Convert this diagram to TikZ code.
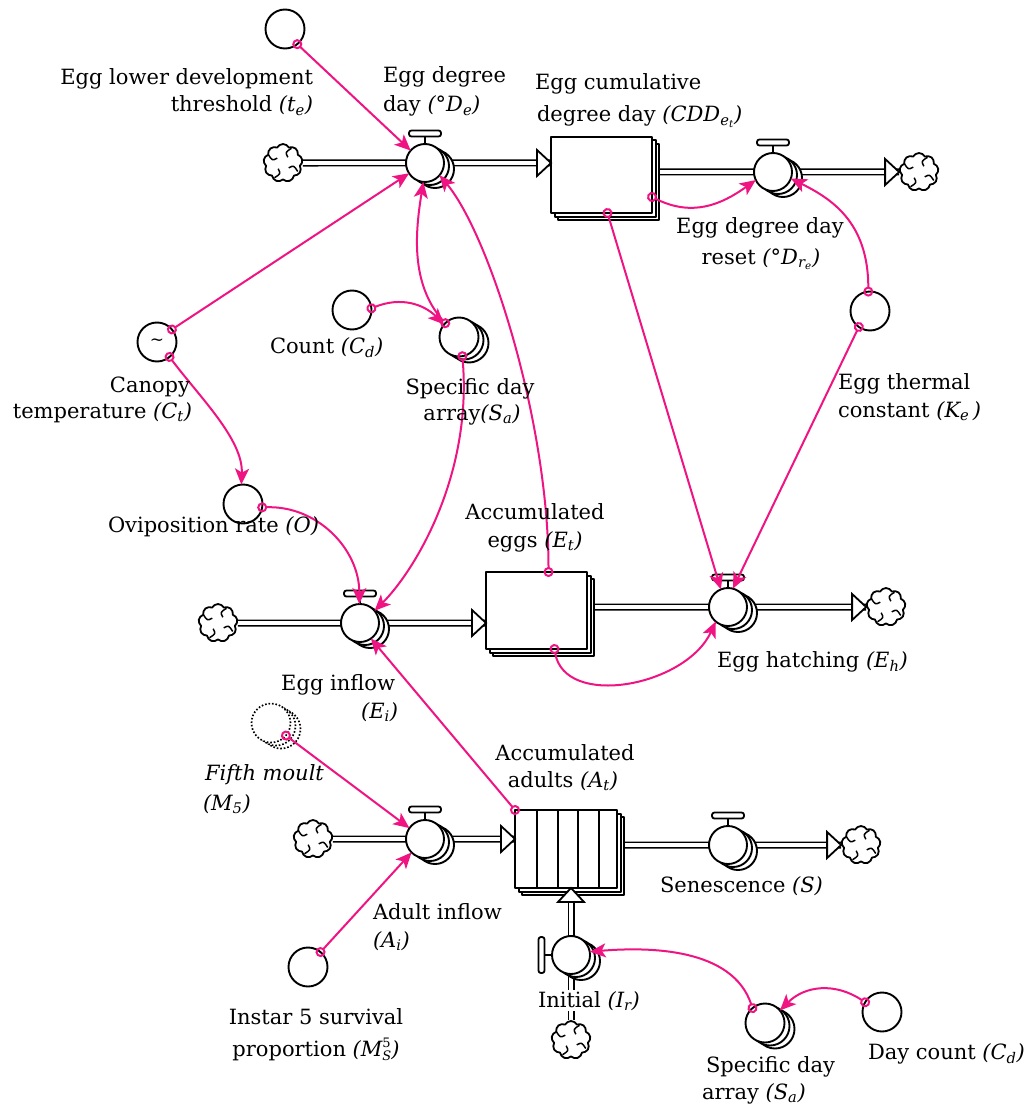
\documentclass[tikz,border=0pt]{standalone}
\usepackage{fontspec}
\setmainfont{DejaVu Serif}
\usetikzlibrary{arrows.meta,shapes.symbols,backgrounds,calc}
\definecolor{linkc}{RGB}{240,20,130}

\newcommand\sbs[1]{\textsubscript{#1}}

% converter drawn with two copies stacked behind it (arrayed variable)
\newcommand\stackedconv[4]{%
  \node[#1] at (#3+10,#4+6) {};
  \node[#1] at (#3+5,#4+3) {};
  \node[#1] (#2) at (#3,#4) {};}

% flow valve with the handle on top
\newcommand\valve[3]{%
  \draw[line width=1.8pt] (#2,#3-18) -- (#2,#3-27);
  \draw[line width=1.8pt, fill=white, rounded corners=2.4pt] (#2-16,#3-32.5) rectangle (#2+16,#3-26.5);
  \stackedconv{vconv}{#1}{#2}{#3}}

% flow valve with the handle on the left (vertical flow)
\newcommand\valvev[3]{%
  \draw[line width=1.8pt] (#2-18,#3) -- (#2-27,#3);
  \draw[line width=1.8pt, fill=white, rounded corners=2.4pt] (#2-32.5,#3-18) rectangle (#2-26.5,#3+18);
  \stackedconv{vconv}{#1}{#2}{#3}}

% stock box with two stacked copies
\newcommand\stock[5]{%
  \node[box, minimum width=#4pt, minimum height=#5pt] at (#2+7,#3+7) {};
  \node[box, minimum width=#4pt, minimum height=#5pt] at (#2+3.5,#3+3.5) {};
  \node[box, minimum width=#4pt, minimum height=#5pt] (#1) at (#2,#3) {};}

% source / sink cloud
\newcommand\srccloud[3]{%
  \node[srcloud] (#1) at (#2,#3) {};
  \foreach \a in {0,90,180,270}
    \draw[line width=1.5pt] ($(#1)+(\a+30:17)$) .. controls ($(#1)+(\a+12:11)$) .. ($(#1)+(\a+40:7.5)$);}

% small index set above a subscript, without overlap
\newcommand\supsub[2]{\rlap{\raisebox{8.5pt}{\fontsize{13}{13}\selectfont\upshape #1}}\raisebox{-4.5pt}{\fontsize{13}{13}\selectfont #2}}

\begin{document}
\begin{tikzpicture}[x=1pt,y=-1pt,
  line join=round,
  pipe/.style={draw=black, line width=1.7pt, double=white, double distance=3.6pt},
  box/.style={draw, line width=2pt, fill=white, inner sep=0, outer sep=0},
  conv/.style={circle, draw, line width=1.9pt, fill=white, minimum size=39pt, inner sep=0, outer sep=0},
  vconv/.style={conv, minimum size=38pt},
  ghost/.style={conv, line width=1.7pt, dash pattern=on 1.6pt off 1.9pt},
  srcloud/.style={cloud, cloud puffs=9, cloud puff arc=125, aspect=1, draw, line width=1.8pt,
    fill=white, minimum width=39pt, minimum height=38pt, inner sep=0},
  link/.style={draw=linkc, line width=2pt, shorten <=-5pt,
    {Circle[open,length=10pt,width=10pt]}-{Stealth[length=16pt,width=14pt,inset=4pt]}},
  lbl/.style={font=\fontsize{21}{27}\selectfont, inner sep=0, outer sep=0},
  pipehead/.pic={\draw[line width=1.8pt, fill=white, line join=miter] (0,0) -- (-14,13) -- (-14,-13) -- cycle;}
]
\useasboundingbox (0,0) rectangle (1030,1110);

% ---------- clouds ----------
\srccloud{C1}{283}{163}
\srccloud{C2}{919}{172}
\srccloud{C3}{218}{623}
\srccloud{C4}{886}{607}
\srccloud{C5}{313}{839}
\srccloud{C6}{861}{845}
\srccloud{C7}{571}{1040}

% ---------- stocks ----------
\stock{S1}{601.5}{175}{101}{76}
\stock{S2}{536.5}{610.5}{101}{77}
\stock{A}{566}{849}{102}{78}
\foreach \dx in {22,43,63,84}
  \draw[line width=1.6pt] ([xshift=\dx pt]A.north west) -- ([xshift=\dx pt]A.south west);

% ---------- valves ----------
\valve{De}{425}{163}
\valve{Er}{773}{172}
\valve{Ei}{360}{623}
\valve{Eh}{728}{607}
\valve{Ai}{425}{839}
\valve{Sen}{728}{845}
\valvev{Ir}{571}{955}

% ---------- converters ----------
\node[conv] (te) at (285,29) {};
\node[conv, font=\fontsize{17}{17}\selectfont] (Ct) at (157,342) {\textasciitilde};
\node[conv] (Cd) at (352,310) {};
\stackedconv{conv}{Sa1}{459}{337}
\node[conv] (Ke) at (870,311) {};
\node[conv] (O) at (243,504) {};
\stackedconv{ghost}{M5}{271}{723}
\node[conv] (MS5) at (308,967) {};
\stackedconv{conv}{Sa2}{765}{1023}
\node[conv] (Cd2) at (882,1012) {};

% ---------- pipes ----------
\begin{scope}[on background layer]
  \fill[white] (0,0) rectangle (1030,1110);
  \draw[pipe] (C1) -- (De) -- (S1.west |- De);
  \draw[pipe] (S1.east |- Er) -- (Er) -- (C2.west);
  \draw[pipe] (C3) -- (Ei) -- (S2.west |- Ei);
  \draw[pipe] (S2.east |- Eh) -- (Eh) -- (C4.west);
  \draw[pipe] (C5) -- (Ai) -- (A.west |- Ai);
  \draw[pipe] (A.east |- Sen) -- (Sen) -- (C6.west);
  \draw[pipe] (C7) -- (Ir) -- (Ir |- A.south);
\end{scope}
\pic at (S1.west |- De) {pipehead};
\pic at (C2.west) {pipehead};
\pic at (S2.west |- Ei) {pipehead};
\pic at (C4.west) {pipehead};
\pic at (A.west |- Ai) {pipehead};
\pic at (C6.west) {pipehead};
\pic[rotate=90] at (Ir |- A.south) {pipehead};

% ---------- connectors ----------
\draw[link] (te.-51) -- (De.139);
\draw[link] (Ct.40) -- (De.213);
\draw[link] (Ct.-50) .. controls +(30,40) and +(2,-45) .. (O.95);
\draw[link] (Sa1.135) .. controls +(-35,-40) and +(-8,50) .. (De.-95);
\draw[link] (Cd.5) .. controls +(30,-12) and +(-20,-20) .. (Sa1.140);
\draw[link] (Sa1.-80) .. controls +(10,120) and +(40,-40) .. (Ei.40);
\draw[link] (O.-10) .. controls +(55,-2) and +(0,-55) .. (Ei.92);
\draw[link] ([xshift=12pt]S2.north) .. controls +(0,-150) and +(50,60) .. (De.-40);
\draw[link] ([xshift=6pt]S1.south) -- (Eh.112);
\draw[link] ([yshift=-22pt]S1.east) .. controls +(40,20) and +(-35,25) .. (Er.205);
\draw[link] (Ke.95) .. controls +(0,-70) and +(40,20) .. (Er.-20);
\draw[link] (Ke.-125) -- (Eh.75);
\draw[link] ([xshift=18pt]S2.south) .. controls +(10,60) and +(-30,65) .. (Eh.-130);
\draw[link] (A.north west) -- (Ei.-55);
\draw[link] (M5.-40) -- (Ai.145);
\draw[link] (MS5.50) -- (Ai.-135);
\draw[link] (Sa2.130) .. controls +(-20,-60) and +(60,-5) .. (Ir.10);
\draw[link] (Cd2.150) .. controls +(-30,-20) and +(25,-25) .. (Sa2.40);

% ---------- labels ----------
\node[lbl, anchor=base east] (l1a) at (313,85) {Egg lower development};
\node[lbl, anchor=base east] (l1b) at (313,112) {threshold \textit{(t\sbs{e})}};
\node[lbl, anchor=base west] (l2a) at (383,83) {Egg degree};
\node[lbl, anchor=base west] (l2b) at (383,112) {day \textit{(°D\sbs{e})}};
\node[lbl, anchor=base west] (l3a) at (535,90) {Egg cumulative};
\node[lbl, anchor=base west] (l3b) at (537,122) {degree day \textit{(CDD\sbs{e\sbs{t}})}};
\node[lbl, anchor=base] (l4a) at (760,233) {Egg degree day};
\node[lbl, anchor=base] (l4b) at (761,264) {reset \textit{(°D\sbs{r\sbs{e}})}};
\node[lbl, anchor=base west] (l5) at (270,353) {Count \textit{(C\sbs{d})}};
\node[lbl, anchor=base] (l6a) at (470,394) {Specific day};
\node[lbl, anchor=base] (l6b) at (472,420) {array\textit{(S\sbs{a})}};
\node[lbl, anchor=base east] (l7a) at (190,392) {Canopy};
\node[lbl, anchor=base east] (l7b) at (192,418) {temperature \textit{(C\sbs{t})}};
\node[lbl, anchor=base west] (l8a) at (838,389) {Egg thermal};
\node[lbl, anchor=base west] (l8b) at (838,417) {constant \textit{(K\sbs{e}\,)}};
\node[lbl, anchor=base west] (l9) at (108,532) {Oviposition rate \textit{(O)}};
\node[lbl, anchor=base] (l10a) at (535,519) {Accumulated};
\node[lbl, anchor=base] (l10b) at (535,547) {eggs \textit{(E\sbs{t})}};
\node[lbl, anchor=base east] (l11a) at (395,690) {Egg inflow};
\node[lbl, anchor=base east] (l11b) at (398,718) {\textit{(E\sbs{i})}};
\node[lbl, anchor=base west] (l12) at (717,667) {Egg hatching \textit{(E\sbs{h})}};
\node[lbl, anchor=base west] (l13a) at (205,780) {\textit{Fifth moult}};
\node[lbl, anchor=base west] (l13b) at (203,810) {\textit{(M\sbs{5})}};
\node[lbl, anchor=base] (l14a) at (565,760) {Accumulated};
\node[lbl, anchor=base] (l14b) at (563,787) {adults \textit{(A\sbs{t})}};
\node[lbl, anchor=base west] (l15) at (660,892) {Senescence \textit{(S)}};
\node[lbl, anchor=base west] (l16a) at (373,919) {Adult inflow};
\node[lbl, anchor=base west] (l16b) at (373,947) {\textit{(A\sbs{i})}};
\node[lbl, anchor=base west, fill=white, inner sep=1pt] (l17) at (537,1007) {Initial \textit{(I\sbs{r})}};
\node[lbl, anchor=base] (l18a) at (316,1024) {Instar 5 survival};
\node[lbl, anchor=base] (l18b) at (316,1056) {proportion \textit{(M\supsub{5}{S})}};
\node[lbl, anchor=base west] (l19a) at (706,1072) {Specific day};
\node[lbl, anchor=base west] (l19b) at (702,1099) {array \textit{(S\sbs{a})}};
\node[lbl, anchor=base west] (l20) at (868,1059) {Day count \textit{(C\sbs{d})}};
\end{tikzpicture}
\end{document}
